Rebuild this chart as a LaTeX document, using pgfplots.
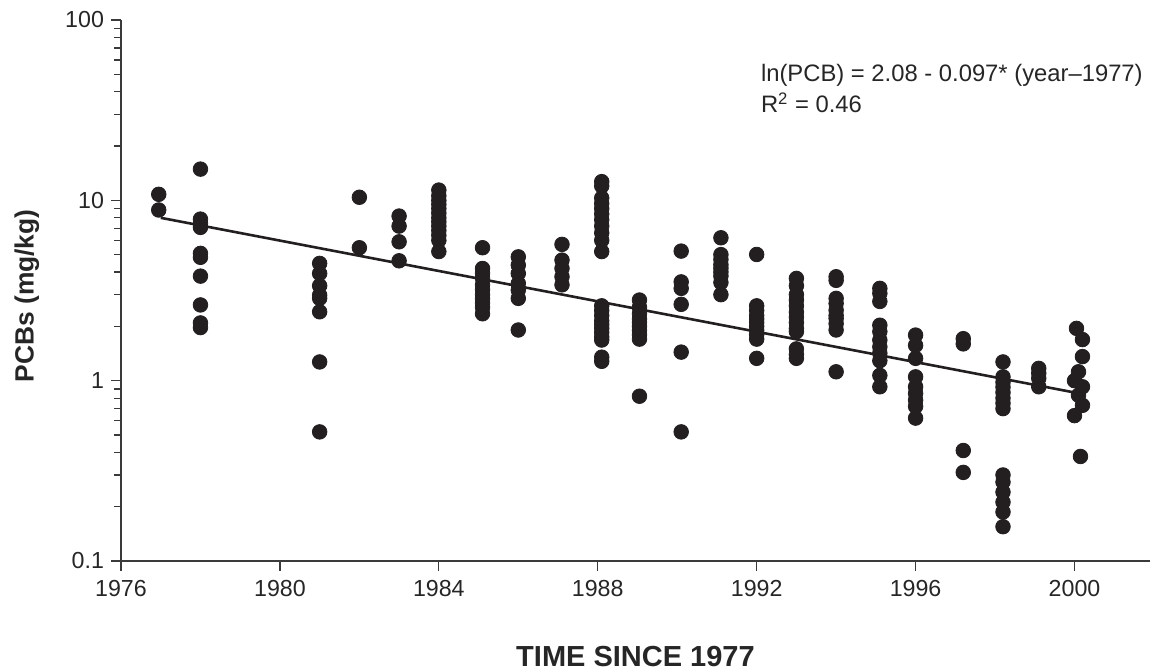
\documentclass[border=0pt]{standalone}
\usepackage{pgfplots}
\pgfplotsset{compat=1.18}
\usepackage{fontspec}
\setmainfont{Liberation Sans}
\definecolor{pt}{HTML}{231F20}
\definecolor{ax}{HTML}{3A3A3A}
\begin{document}
\begin{tikzpicture}
\useasboundingbox (-60.5pt,-55pt) rectangle (515.5pt,280.5pt);
\begin{axis}[
  scale only axis,
  width=514.5pt, height=270.5pt,
  ymode=log,
  xmin=1976, xmax=2001.9,
  ymin=0.1, ymax=100,
  axis x line*=bottom, axis y line*=left,
  axis line style={ax, line width=0.6pt},
  every tick/.style={ax, line width=0.6pt},
  tick align=outside,
  major tick length=5pt, minor tick length=3.5pt,
  xtick={1976,1980,1984,1988,1992,1996,2000},
  xticklabels={1976,1980,1984,1988,1992,1996,2000},
  ytick={0.1,1,10,100},
  yticklabels={0.1,1,10,100},
  minor ytick={0.2,0.3,0.4,0.5,0.6,0.7,0.8,0.9,2,3,4,5,6,7,8,9,20,30,40,50,60,70,80,90},
  /pgf/number format/assume math mode=true,
  tick label style={font=\fontsize{11.6}{14}\selectfont, text=black!85},
  xticklabel style={yshift=-1pt},
  xlabel={\fontsize{14.5}{16}\selectfont\bfseries TIME SINCE 1977},
  ylabel={\fontsize{13.2}{16}\selectfont\bfseries PCBs (mg/kg)},
  xlabel style={text=black!85, at={(axis description cs:0.5,0)}, anchor=north, inner sep=0pt, yshift=-42.6pt},
  ylabel style={text=black!85, at={(axis description cs:-0.0914,0.49)}, anchor=center},
  clip=false,
]
\addplot[only marks, mark=*, mark size=3.65pt, color=pt, mark options={fill=pt, draw=pt}] coordinates {
(1976.95,10.8) (1976.95,8.84)
(1978.0,14.9) (1978.0,7.87) (1978.0,7.45) (1978.0,7.08) (1978.0,5.08) (1978.0,4.83) (1978.0,3.80) (1978.0,2.63) (1978.0,2.09) (1978.0,1.97)
(1981.0,4.47) (1981.0,3.93) (1981.0,3.36) (1981.0,2.98) (1981.0,2.86) (1981.0,2.41) (1981.0,1.27) (1981.0,0.52)
(1982.0,10.4) (1982.0,5.46)
(1983.0,8.18) (1983.0,7.20) (1983.0,5.89) (1983.0,4.62)
(1984.0,11.4) (1984.0,10.6) (1984.0,10.0) (1984.0,9.5) (1984.0,9.0) (1984.0,8.5) (1984.0,8.0) (1984.0,7.6) (1984.0,7.2) (1984.0,6.8) (1984.0,6.4) (1984.0,6.0) (1984.0,5.2)
(1985.1,5.46) (1985.1,4.19) (1985.1,3.95) (1985.1,3.7) (1985.1,3.4) (1985.1,3.2) (1985.1,3.0) (1985.1,2.85) (1985.1,2.7) (1985.1,2.55) (1985.1,2.35)
(1986.0,4.86) (1986.0,4.37) (1986.0,3.93) (1986.0,3.46) (1986.0,3.18) (1986.0,2.86) (1986.0,1.91)
(1987.1,5.70) (1987.1,4.66) (1987.1,4.19) (1987.1,3.77) (1987.1,3.4)
(1988.1,12.7) (1988.1,12.0) (1988.1,10.3) (1988.1,9.6) (1988.1,9.0) (1988.1,8.4) (1988.1,7.8) (1988.1,7.2) (1988.1,6.6) (1988.1,6.0) (1988.1,5.2)
(1988.1,2.6) (1988.1,2.45) (1988.1,2.3) (1988.1,2.15) (1988.1,2.05) (1988.1,1.95) (1988.1,1.85) (1988.1,1.75) (1988.1,1.68) (1988.1,1.35) (1988.1,1.28)
(1989.05,2.8) (1989.05,2.55) (1989.05,2.35) (1989.05,2.2) (1989.05,2.1) (1989.05,2.0) (1989.05,1.9) (1989.05,1.8) (1989.05,1.7) (1989.05,0.82)
(1990.1,5.23) (1990.1,3.53) (1990.1,3.25) (1990.1,2.65) (1990.1,1.44) (1990.1,0.52)
(1991.1,6.2) (1991.1,5.0) (1991.1,4.7) (1991.1,4.4) (1991.1,4.2) (1991.1,4.0) (1991.1,3.8) (1991.1,3.5) (1991.1,3.0)
(1992.0,5.01) (1992.0,2.6) (1992.0,2.45) (1992.0,2.3) (1992.0,2.2) (1992.0,2.1) (1992.0,2.0) (1992.0,1.9) (1992.0,1.8) (1992.0,1.7) (1992.0,1.33)
(1993.0,3.69) (1993.0,3.36) (1993.0,3.0) (1993.0,2.8) (1993.0,2.6) (1993.0,2.4) (1993.0,2.25) (1993.0,2.1) (1993.0,1.95) (1993.0,1.87) (1993.0,1.5) (1993.0,1.4) (1993.0,1.33)
(1994.0,3.77) (1994.0,3.6) (1994.0,2.86) (1994.0,2.68) (1994.0,2.46) (1994.0,2.3) (1994.0,2.21) (1994.0,2.07) (1994.0,1.91) (1994.0,1.12)
(1995.1,3.25) (1995.1,3.05) (1995.1,2.75) (1995.1,2.03) (1995.1,1.87) (1995.1,1.68) (1995.1,1.54) (1995.1,1.42) (1995.1,1.29) (1995.1,1.07) (1995.1,0.925)
(1996.0,1.79) (1996.0,1.57) (1996.0,1.33) (1996.0,1.05) (1996.0,0.925) (1996.0,0.85) (1996.0,0.78) (1996.0,0.72) (1996.0,0.62)
(1997.2,1.71) (1997.2,1.6) (1997.2,0.41) (1997.2,0.31)
(1998.2,1.27) (1998.2,1.05) (1998.2,0.98) (1998.2,0.92) (1998.2,0.86) (1998.2,0.8) (1998.2,0.75) (1998.2,0.70)
(1998.2,0.30) (1998.2,0.274) (1998.2,0.241) (1998.2,0.212) (1998.2,0.187) (1998.2,0.155)
(1999.1,1.17) (1999.1,1.1) (1999.1,1.03) (1999.1,0.925)
(2000.05,1.95) (2000.2,1.69) (2000.2,1.36) (2000.1,1.12) (2000.0,1.0) (2000.2,0.925) (2000.1,0.83) (2000.2,0.73) (2000.0,0.64) (2000.15,0.38)
};
\addplot[color=pt, line width=1.3pt] coordinates {(1977,8.0) (2000,0.86)};
\node[anchor=base west, inner sep=0pt, font=\fontsize{11.9}{14}\selectfont, text=black!85] at (axis cs:1992.1,45.5) {ln(PCB) = 2.08 - 0.097* (year–1977)};
\node[anchor=base west, inner sep=0pt, font=\fontsize{11.9}{14}\selectfont, text=black!85] at (axis cs:1992.1,30.6) {R\textsuperscript{2} = 0.46};
\end{axis}
\end{tikzpicture}
\end{document}
